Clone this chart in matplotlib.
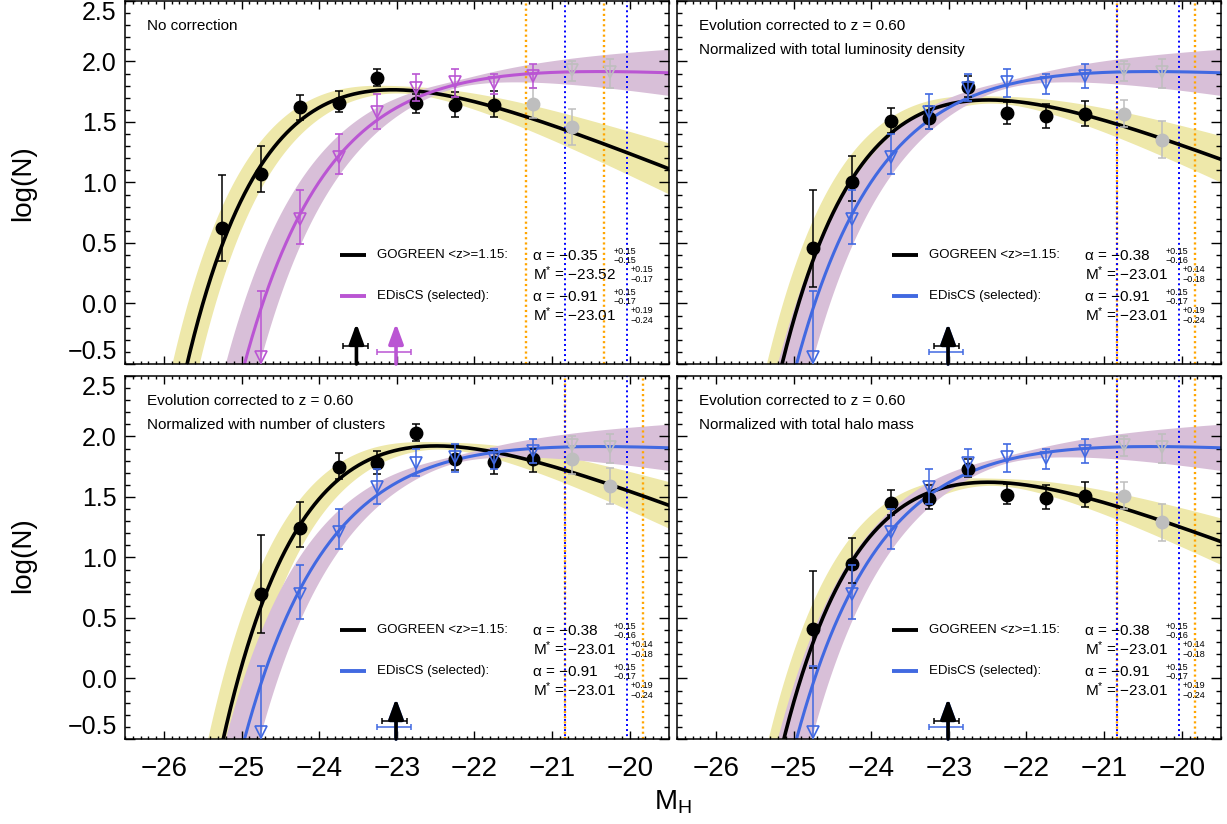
import numpy as np
import matplotlib
matplotlib.use("Agg")
import matplotlib.pyplot as plt
from matplotlib.ticker import MultipleLocator

plt.rcParams["font.family"] = ["Liberation Sans", "DejaVu Sans"]
plt.rcParams["mathtext.fontset"] = "custom"
plt.rcParams["mathtext.rm"] = "Liberation Sans"
plt.rcParams["mathtext.it"] = "Liberation Sans:italic"

# ---- data ----
gg_mag_raw = [-25.25, -24.75, -24.25, -23.75, -23.25, -22.75, -22.25, -21.75, -21.25, -20.75]
gg_mag_evo = [-24.75, -24.25, -23.75, -23.25, -22.75, -22.25, -21.75, -21.25, -20.75, -20.25]
ed_mag = [-24.75, -24.25, -23.75, -23.25, -22.75, -22.25, -21.75, -21.25, -20.75, -20.25]

# GOGREEN log(N), one list per normalisation
gg_nocorr = [0.62, 1.07, 1.62, 1.66, 1.86, 1.66, 1.64, 1.64, 1.65, 1.455]
gg_nocorr_up = [0.44, 0.23, 0.10, 0.10, 0.08, 0.07, 0.11, 0.12, 0.13, 0.155]
gg_nocorr_lo = [0.27, 0.15, 0.10, 0.08, 0.06, 0.085, 0.10, 0.10, 0.12, 0.145]

gg_lumdens = [0.46, 1.00, 1.505, 1.53, 1.79, 1.575, 1.55, 1.57, 1.57, 1.355]
gg_lumdens_up = [0.48, 0.22, 0.11, 0.10, 0.09, 0.09, 0.10, 0.10, 0.11, 0.15]
gg_lumdens_lo = [0.32, 0.15, 0.10, 0.09, 0.08, 0.09, 0.10, 0.10, 0.11, 0.155]

gg_nclus = [0.695, 1.24, 1.75, 1.78, 2.025, 1.81, 1.79, 1.81, 1.81, 1.59]
gg_nclus_up = [0.49, 0.22, 0.11, 0.10, 0.075, 0.12, 0.09, 0.09, 0.11, 0.15]
gg_nclus_lo = [0.32, 0.15, 0.10, 0.09, 0.065, 0.09, 0.10, 0.10, 0.12, 0.15]

gg_halo = [0.41, 0.945, 1.45, 1.48, 1.73, 1.52, 1.49, 1.51, 1.51, 1.29]
gg_halo_up = [0.48, 0.22, 0.11, 0.12, 0.08, 0.09, 0.11, 0.11, 0.11, 0.155]
gg_halo_lo = [0.32, 0.155, 0.10, 0.08, 0.065, 0.08, 0.09, 0.09, 0.11, 0.15]

# EDisCS (same in every panel)
ed_logn = [-0.44, 0.70, 1.21, 1.58, 1.78, 1.83, 1.82, 1.88, 1.93, 1.91]
ed_up = [0.54, 0.24, 0.19, 0.15, 0.12, 0.11, 0.08, 0.10, 0.07, 0.11]
ed_lo = [0.60, 0.21, 0.14, 0.14, 0.11, 0.12, 0.09, 0.10, 0.09, 0.13]

# Schechter fit parameters (from the legends) + log normalisation
gg_alpha = [-0.35, -0.38, -0.38, -0.38]
gg_alpha_err = [(0.15, 0.15), (0.15, 0.16), (0.15, 0.16), (0.15, 0.16)]
gg_mstar = [-23.52, -23.01, -23.01, -23.01]
gg_mstar_err = [(0.15, 0.17), (0.14, 0.18), (0.14, 0.18), (0.14, 0.18)]
gg_norm = [2.17, 2.08, 2.32, 2.02]
ed_alpha = -0.91
ed_alpha_err = (0.15, 0.17)
ed_mstar = -23.01
ed_mstar_err = (0.19, 0.24)
ed_norm = 2.05

# completeness limits (dotted lines)
gg_limits_raw = [-21.34, -20.33]
gg_limits_evo = [-20.84, -19.83]
ed_limits = [-20.84, -20.03]

titles = [
    ["No correction"],
    ["Evolution corrected to z = 0.60", "Normalized with total luminosity density"],
    ["Evolution corrected to z = 0.60", "Normalized with number of clusters"],
    ["Evolution corrected to z = 0.60", "Normalized with total halo mass"],
]

xticks = [-26, -25, -24, -23, -22, -21, -20]
xtick_labels = ["\u221226", "\u221225", "\u221224", "\u221223", "\u221222", "\u221221", "\u221220"]
yticks = [-0.5, 0.0, 0.5, 1.0, 1.5, 2.0, 2.5]
ytick_labels = ["\u22120.5", "0.0", "0.5", "1.0", "1.5", "2.0", "2.5"]

YELLOW = "#EEE8AA"
THISTLE = "#D8BFD8"
PURPLE = "#BA55D3"
BLUE = "#4169E1"
GRAY = "#BEBEBE"


def schechter(mag, alpha, mstar, norm):
    x = mstar - mag
    return norm + 0.4 * (alpha + 1) * x - 10 ** (0.4 * x) / np.log(10)


def fit_band(mag, alpha, mstar, norm, aerr, merr, pivot):
    nom = schechter(mag, alpha, mstar, norm)
    ref = schechter(pivot, alpha, mstar, norm)
    total = np.full_like(mag, 0.03 ** 2)
    for pair in [((alpha + aerr[0], mstar), (alpha - aerr[1], mstar)),
                 ((alpha, mstar + merr[0]), (alpha, mstar - merr[1]))]:
        devs = []
        for a, ms in pair:
            c = schechter(mag, a, ms, norm) - schechter(pivot, a, ms, norm) + ref
            devs.append(np.abs(c - nom))
        total += np.maximum(devs[0], devs[1]) ** 2
    w = np.sqrt(total)
    return nom - w, nom + w


def legend_block(ax, y, color, name, alpha_s, aerr, mstar_s, merr):
    ax.plot([0.396, 0.444], [y, y], transform=ax.transAxes, color=color, lw=2.8,
            solid_capstyle="butt", clip_on=False)
    ax.text(0.464, y, name, transform=ax.transAxes, fontsize=9.5, va="center")
    ax.text(0.750, y - 0.004, "\u03b1 = \u2212" + alpha_s, transform=ax.transAxes,
            fontsize=11, va="center")
    ax.text(0.899, y + 0.009, "+" + aerr[0], transform=ax.transAxes, fontsize=6.5, va="center")
    ax.text(0.899, y - 0.016, "\u2212" + aerr[1], transform=ax.transAxes, fontsize=6.5, va="center")
    ax.text(0.750, y - 0.052, "M$^{*}$ = \u2212" + mstar_s, transform=ax.transAxes,
            fontsize=11, va="center")
    ax.text(0.930, y - 0.041, "+" + merr[0], transform=ax.transAxes, fontsize=6.5, va="center")
    ax.text(0.930, y - 0.067, "\u2212" + merr[1], transform=ax.transAxes, fontsize=6.5, va="center")


gg_sets = [
    (gg_mag_raw, gg_nocorr, gg_nocorr_lo, gg_nocorr_up),
    (gg_mag_evo, gg_lumdens, gg_lumdens_lo, gg_lumdens_up),
    (gg_mag_evo, gg_nclus, gg_nclus_lo, gg_nclus_up),
    (gg_mag_evo, gg_halo, gg_halo_lo, gg_halo_up),
]
ed_colors = [PURPLE, BLUE, BLUE, BLUE]
gg_limit_sets = [gg_limits_raw, gg_limits_evo, gg_limits_evo, gg_limits_evo]
gg_alpha_txt = ["0.35", "0.38", "0.38", "0.38"]
gg_mstar_txt = ["23.52", "23.01", "23.01", "23.01"]

positions = [
    [0.1019, 0.5583, 0.4430, 0.4405],
    [0.5518, 0.5583, 0.4430, 0.4405],
    [0.1019, 0.1032, 0.4430, 0.4405],
    [0.5518, 0.1032, 0.4430, 0.4405],
]

fig = plt.figure(figsize=(12.27, 8.24), dpi=100)
grid = np.linspace(-26.6, -19.4, 800)

for i in range(4):
    ax = fig.add_axes(positions[i])
    ecol = ed_colors[i]

    # fit bands
    lo, hi = fit_band(grid, gg_alpha[i], gg_mstar[i], gg_norm[i],
                      gg_alpha_err[i], gg_mstar_err[i], gg_mstar[i] + 0.6)
    ax.fill_between(grid, lo, hi, color=YELLOW, lw=0, zorder=1)
    lo, hi = fit_band(grid, ed_alpha, ed_mstar, ed_norm,
                      ed_alpha_err, ed_mstar_err, ed_mstar + 0.8)
    ax.fill_between(grid, lo, hi, color=THISTLE, lw=0, zorder=1.1)

    # completeness limits
    for xl in gg_limit_sets[i]:
        ax.axvline(xl, color="#FFA500", lw=1.7, ls=(0, (0.9, 1.3)), zorder=1.5)
    for xl in ed_limits:
        ax.axvline(xl, color="#0000FF", lw=1.4, ls=(1.1, (1.0, 1.6)), zorder=1.6)

    # fitted curves
    ax.plot(grid, schechter(grid, gg_alpha[i], gg_mstar[i], gg_norm[i]),
            color="black", lw=2.6, zorder=2)
    ax.plot(grid, schechter(grid, ed_alpha, ed_mstar, ed_norm),
            color=ecol, lw=2.2, zorder=2.1)

    # GOGREEN points
    mag, val, elo, eup = gg_sets[i]
    ax.errorbar(mag[:-2], val[:-2], yerr=[elo[:-2], eup[:-2]], fmt="o", ms=9,
                color="black", ecolor="black", elinewidth=1.1, capsize=2.6,
                capthick=1.1, zorder=3)
    ax.errorbar(mag[-2:], val[-2:], yerr=[elo[-2:], eup[-2:]], fmt="o", ms=9,
                color=GRAY, ecolor=GRAY, elinewidth=1.1, capsize=2.6,
                capthick=1.1, zorder=3)

    # EDisCS points
    ax.errorbar(ed_mag[:-2], ed_logn[:-2], yerr=[ed_lo[:-2], ed_up[:-2]], fmt="v",
                ms=8.5, mfc="none", mec=ecol, mew=1.2, ecolor=ecol, elinewidth=1.1,
                capsize=2.6, capthick=1.1, zorder=3.2)
    ax.errorbar(ed_mag[-2:], ed_logn[-2:], yerr=[ed_lo[-2:], ed_up[-2:]], fmt="v",
                ms=8.5, mfc="none", mec=GRAY, mew=1.2, ecolor=GRAY, elinewidth=1.1,
                capsize=2.6, capthick=1.1, zorder=3.2)

    # M* arrows with error bars
    arrow_sets = [(ed_mstar, ed_mstar_err, ecol, -0.40), (gg_mstar[i], gg_mstar_err[i], "black", -0.35)]
    for ms, me, col, yb in arrow_sets:
        ax.annotate("", xy=(ms, -0.165), xytext=(ms, -0.5),
                    arrowprops=dict(arrowstyle="-|>,head_length=0.6,head_width=0.22",
                                    color=col, lw=2.6, mutation_scale=20,
                                    shrinkA=0, shrinkB=0), zorder=4)
        ax.errorbar([ms], [yb], xerr=[[me[1]], [me[0]]], fmt="none", ecolor=col,
                    elinewidth=1.1, capsize=2.5, capthick=1.1, zorder=4)

    # legend
    legend_block(ax, 0.301, "black", "GOGREEN <z>=1.15:", gg_alpha_txt[i],
                 ["%.2f" % gg_alpha_err[i][0], "%.2f" % gg_alpha_err[i][1]],
                 gg_mstar_txt[i],
                 ["%.2f" % gg_mstar_err[i][0], "%.2f" % gg_mstar_err[i][1]])
    legend_block(ax, 0.188, ecol, "EDisCS (selected):", "0.91",
                 ["%.2f" % ed_alpha_err[0], "%.2f" % ed_alpha_err[1]], "23.01",
                 ["%.2f" % ed_mstar_err[0], "%.2f" % ed_mstar_err[1]])

    # panel titles
    for k, t in enumerate(titles[i]):
        ax.text(0.04, 0.932 - 0.068 * k, t, transform=ax.transAxes, fontsize=11, va="center")

    # axes styling
    ax.set_xlim(-26.5, -19.5)
    ax.set_ylim(-0.5, 2.5)
    ax.set_xticks(xticks)
    ax.set_yticks(yticks)
    ax.xaxis.set_minor_locator(MultipleLocator(0.1))
    ax.yaxis.set_minor_locator(MultipleLocator(0.1))
    ax.tick_params(which="both", direction="in", top=True, right=True, width=1)
    ax.tick_params(axis="x", which="major", length=5.5, pad=12)
    ax.tick_params(axis="x", which="minor", length=2.5)
    ax.tick_params(axis="y", which="major", length=7.5, pad=6)
    ax.tick_params(axis="y", which="minor", length=3.5)
    for sp in ax.spines.values():
        sp.set_linewidth(1.1)

    if i >= 2:
        ax.set_xticklabels(xtick_labels, fontsize=20)
    else:
        ax.set_xticklabels([])
    if i % 2 == 0:
        ax.set_yticklabels(ytick_labels, fontsize=18)
        for tk, yv in zip(ax.yaxis.get_major_ticks(), yticks):
            if yv == 2.5:
                tk.label1.set_verticalalignment("top")
            elif yv == -0.5:
                tk.label1.set_verticalalignment("bottom")
    else:
        ax.set_yticklabels([])

fig.text(0.019, 0.778, "log(N)", rotation=90, fontsize=20, ha="center", va="center")
fig.text(0.019, 0.326, "log(N)", rotation=90, fontsize=20, ha="center", va="center")
fig.text(0.5485, 0.026, r"M$_{\mathrm{H}}$", fontsize=20, ha="center", va="center")

fig.savefig("out.png", dpi=100)
